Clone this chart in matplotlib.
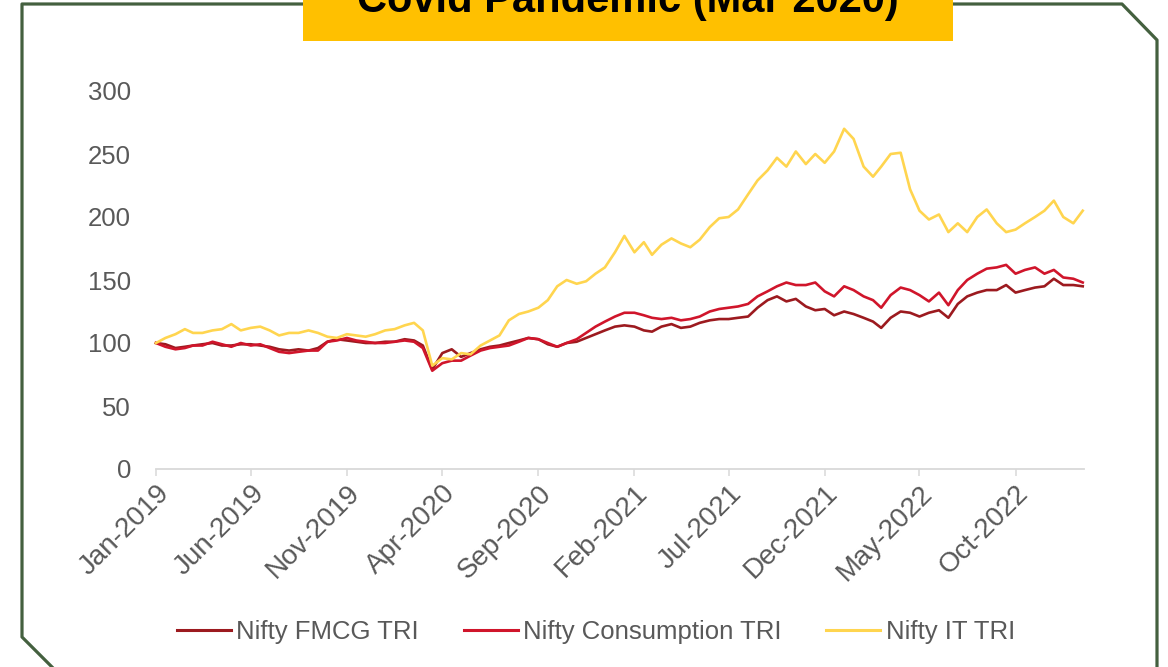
import datetime as dt

import matplotlib
matplotlib.use("Agg")
import matplotlib.pyplot as plt
from matplotlib.lines import Line2D
from matplotlib.patches import Rectangle

plt.rcParams["font.family"] = ["Liberation Sans", "DejaVu Sans"]

# semi-monthly readings (1st and 16th), Jan 2019 - mid Jan 2023
dates = [dt.date(2019 + m // 12, m % 12 + 1, d) for m in range(49) for d in (1, 16)][:98]

fmcg = [100, 99, 96, 97, 98, 99, 100, 98, 98, 99,
        99, 98, 97, 95, 94, 95, 94, 96, 101, 103,
        102, 101, 100, 100, 101, 101, 103, 102, 98, 79,
        92, 95, 89, 92, 95, 97, 98, 100, 102, 104,
        103, 99, 97, 100, 101, 104, 107, 110, 113, 114,
        113, 110, 109, 113, 115, 112, 113, 116, 118, 119,
        119, 120, 121, 128, 134, 137, 133, 135, 129, 126,
        127, 122, 125, 123, 120, 117, 112, 120, 125, 124,
        121, 124, 126, 120, 131, 137, 140, 142, 142, 146,
        140, 142, 144, 145, 151, 146, 146, 145]

consumption = [100, 97, 95, 96, 98, 98, 101, 99, 97, 100,
               98, 99, 96, 93, 92, 93, 94, 94, 101, 102,
               104, 102, 101, 100, 100, 101, 102, 101, 96, 78,
               84, 86, 86, 90, 94, 96, 97, 98, 101, 104,
               103, 100, 97, 100, 103, 108, 113, 117, 121, 124,
               124, 122, 120, 119, 120, 118, 119, 121, 125, 127,
               128, 129, 131, 137, 141, 145, 148, 146, 146, 148,
               141, 137, 145, 142, 137, 134, 128, 138, 144, 142,
               138, 133, 140, 130, 142, 150, 155, 159, 160, 162,
               155, 158, 160, 155, 158, 152, 151, 148]

it = [100, 104, 107, 111, 108, 108, 110, 111, 115, 110,
      112, 113, 110, 106, 108, 108, 110, 108, 105, 104,
      107, 106, 105, 107, 110, 111, 114, 116, 110, 82,
      88, 87, 92, 91, 98, 102, 106, 118, 123, 125,
      128, 134, 145, 150, 147, 149, 155, 160, 172, 185,
      172, 180, 170, 178, 183, 179, 176, 182, 192, 199,
      200, 206, 218, 229, 237, 247, 240, 252, 242, 250,
      243, 252, 270, 262, 240, 232, 240, 250, 251, 222,
      205, 198, 202, 188, 195, 188, 200, 206, 195, 188,
      190, 195, 200, 205, 213, 200, 195, 205]

series_names = ["Nifty FMCG TRI", "Nifty Consumption TRI", "Nifty IT TRI"]
series_colors = ["#9C1A1F", "#D0152B", "#FFD54F"]

tick_dates = [dt.date(2019, 1, 1), dt.date(2019, 6, 1), dt.date(2019, 11, 1),
              dt.date(2020, 4, 1), dt.date(2020, 9, 1), dt.date(2021, 2, 1),
              dt.date(2021, 7, 1), dt.date(2021, 12, 1), dt.date(2022, 5, 1),
              dt.date(2022, 10, 1)]
tick_labels = ["Jan-2019", "Jun-2019", "Nov-2019", "Apr-2020", "Sep-2020",
               "Feb-2021", "Jul-2021", "Dec-2021", "May-2022", "Oct-2022"]

title = "Covid Pandemic (Mar 2020)"

W, H = 1168, 667
fig = plt.figure(figsize=(W / 100, H / 100), dpi=100)


def fx(px):
    return px / W


def fy(py):
    return 1 - py / H


ax = fig.add_axes([fx(156), fy(469), fx(1084) - fx(156), fy(91) - fy(469)])

for vals, name, col in zip([fmcg, consumption, it], series_names, series_colors):
    ax.plot(dates, vals, color=col, lw=1.9, label=name, clip_on=False)

ax.set_ylim(0, 300)
ax.set_yticks(range(0, 301, 50))
ax.set_xlim(dt.date(2019, 1, 1), dt.date(2023, 1, 18))
ax.set_xticks(tick_dates)
ax.set_xticklabels(tick_labels, rotation=45, ha="right", rotation_mode="anchor")

for s in ["top", "right", "left"]:
    ax.spines[s].set_visible(False)
ax.spines["bottom"].set_color("#D9D9D9")
ax.spines["bottom"].set_linewidth(1.3)
ax.tick_params(axis="y", length=0, pad=18, labelsize=18.5, labelcolor="#595959")
ax.tick_params(axis="x", length=5, width=1.1, color="#D9D9D9", pad=3,
               labelsize=20, labelcolor="#595959")

leg = fig.legend(loc="center", bbox_to_anchor=(fx(596), fy(632)), ncol=3,
                 frameon=False, fontsize=18.5, handlelength=2.1,
                 handletextpad=0.2, columnspacing=1.75)
for t in leg.get_texts():
    t.set_color("#595959")
for h in leg.legend_handles:
    h.set_linewidth(2.2)

# frame with cut corners
border_x = [60, 22, 22, 1122, 1157, 1157]
border_y = [675, 637, 4, 4, 40, 680]
fig.add_artist(Line2D([fx(x) for x in border_x], [fy(y) for y in border_y],
                      color="#44603F", lw=2.3, transform=fig.transFigure))

# title box, cut off at the top as in the source
fig.add_artist(Rectangle((fx(303), fy(41)), fx(953) - fx(303), fy(0) - fy(41),
                         facecolor="#FFC000", edgecolor="none",
                         transform=fig.transFigure, zorder=5))
fig.text(fx(628), fy(12), title, ha="center", va="baseline", fontsize=30,
         fontweight="bold", color="black", zorder=6)

fig.savefig("out.png", dpi=100)
